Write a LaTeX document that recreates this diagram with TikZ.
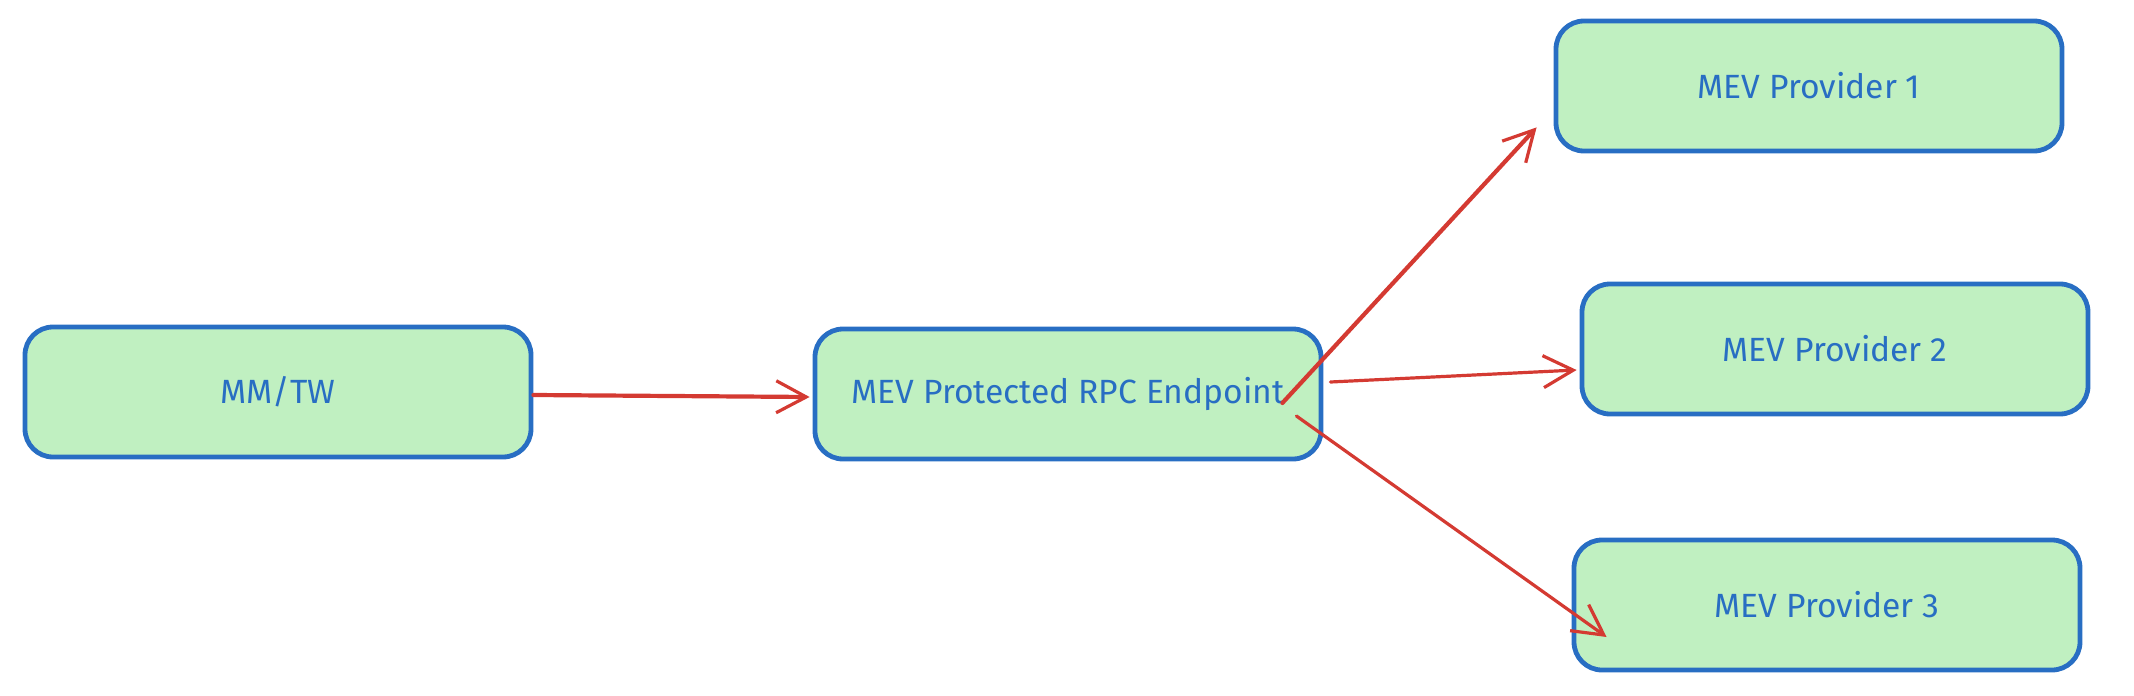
\documentclass[tikz,border=0pt]{standalone}
\usepackage{fontspec}
\setmainfont{Fira Sans}
\usetikzlibrary{arrows.meta}
\definecolor{boxfill}{RGB}{192,240,193}
\definecolor{boxline}{RGB}{40,110,195}
\definecolor{arrowred}{RGB}{212,58,50}
\tikzset{
  box/.style={draw=boxline, fill=boxfill, line width=1.2pt, rounded corners=7pt,
    minimum width=126.5pt, minimum height=32.5pt, inner sep=0pt,
    text=boxline, font=\fontsize{8.4}{10}\selectfont},
  flow/.style={draw=arrowred, line width=0.8pt, line cap=round,
    -{Straight Barb[length=7.5pt,width=8pt,line width=0.8pt]}},
  boldflow/.style={flow, line width=1.05pt}
}
\begin{document}
\begin{tikzpicture}[x=0.25pt,y=-0.25pt]
\useasboundingbox (0,0) rectangle (2134,696);
\node[box] (mm) at (278,392) {MM/TW};
\node[box] (rpc) at (1068,394) {MEV Protected RPC Endpoint};
\node[box] (p1) at (1809,86) {MEV Provider 1};
\node[box] (p2) at (1835,349) {MEV Provider 2};
\node[box] (p3) at (1827,605) {MEV Provider 3};
\coordinate (s1) at ([shift={(0,3)}]mm.east);
\coordinate (e1) at ([shift={(-3,3)}]rpc.west);
\coordinate (s2) at ([shift={(-41,9)}]rpc.east);
\coordinate (e2) at ([shift={(-17,-26)}]p1.south west);
\coordinate (s3) at ([shift={(7,-12)}]rpc.east);
\coordinate (e3) at ([shift={(-3,21)}]p2.west);
\coordinate (s4) at ([shift={(-27,22)}]rpc.east);
\coordinate (e4) at ([shift={(35,32)}]p3.west);
\draw[boldflow] (s1) -- (e1);
\draw[boldflow] (s2) -- (e2);
\draw[flow] (s3) -- (e3);
\draw[flow] (s4) -- (e4);
\end{tikzpicture}
\end{document}
